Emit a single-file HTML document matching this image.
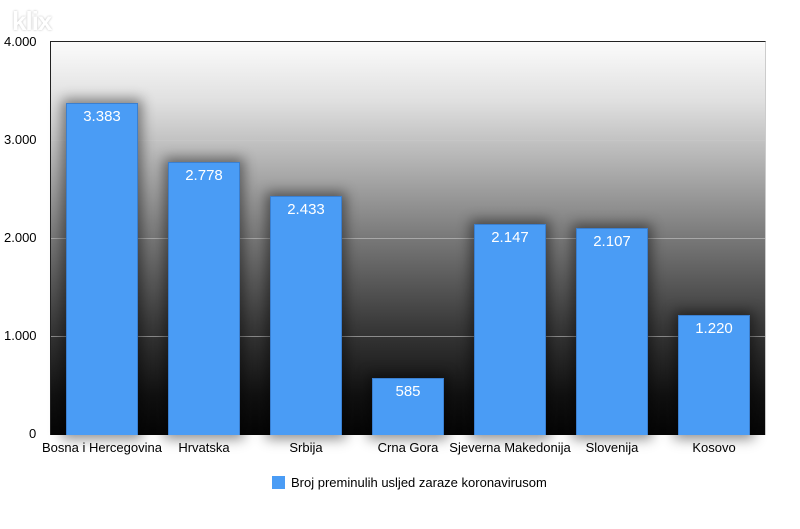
<!DOCTYPE html>
<html><head><meta charset="utf-8"><style>
body{margin:0;width:800px;height:529px;background:#fff;font-family:"Liberation Sans",sans-serif;position:relative;overflow:hidden}
.plot{position:absolute;left:50px;top:41px;width:714px;height:393px;border-left:1px solid #222;border-top:1px solid #222;border-right:1px solid #ccc;
background:linear-gradient(#fbfbfb 0%,#e0e0e0 15%,#b4b4b4 30%,#787878 50%,#3a3a3a 72%,#111 90%,#050505 100%)}
.g{position:absolute;left:0;right:0;height:1px;background:rgba(200,200,200,.6)}
.bar{position:absolute;bottom:0;width:72px;background:#4a9cf5;border:1px solid #3a7fd0;border-bottom:0;box-shadow:0 0 12px 4px rgba(0,0,0,.45);color:#fff;font-size:15px;text-align:center;padding-top:4px;box-sizing:border-box}
.yl{position:absolute;font-size:13px;color:#000}
.xl{position:absolute;top:440px;font-size:13px;width:140px;text-align:center;color:#000}
</style></head><body>
<div style="position:absolute;left:12px;top:6px;font-size:26px;font-weight:bold;color:#fff;text-shadow:0 0 2px #bbb;letter-spacing:-1px">klix</div>
<div class="plot">
<div class="g" style="top:98px"></div><div class="g" style="top:196px"></div><div class="g" style="top:294px"></div>
<div class="bar" style="left:15px;height:332px">3.383</div>
<div class="bar" style="left:117px;height:273px">2.778</div>
<div class="bar" style="left:219px;height:239px">2.433</div>
<div class="bar" style="left:321px;height:57px">585</div>
<div class="bar" style="left:423px;height:211px">2.147</div>
<div class="bar" style="left:525px;height:207px">2.107</div>
<div class="bar" style="left:627px;height:120px">1.220</div>
</div>
<div class="yl" style="top:34px;left:4px">4.000</div>
<div class="yl" style="top:132px;left:4px">3.000</div>
<div class="yl" style="top:230px;left:4px">2.000</div>
<div class="yl" style="top:328px;left:4px">1.000</div>
<div class="yl" style="top:426px;left:29px">0</div>
<div class="xl" style="left:32px">Bosna i Hercegovina</div>
<div class="xl" style="left:134px">Hrvatska</div>
<div class="xl" style="left:236px">Srbija</div>
<div class="xl" style="left:338px">Crna Gora</div>
<div class="xl" style="left:440px">Sjeverna Makedonija</div>
<div class="xl" style="left:542px">Slovenija</div>
<div class="xl" style="left:644px">Kosovo</div>
<div style="position:absolute;left:272px;top:476px;width:13px;height:13px;background:#4a9cf5"></div>
<div style="position:absolute;left:291px;top:475px;font-size:13px">Broj preminulih usljed zaraze koronavirusom</div>
</body></html>
